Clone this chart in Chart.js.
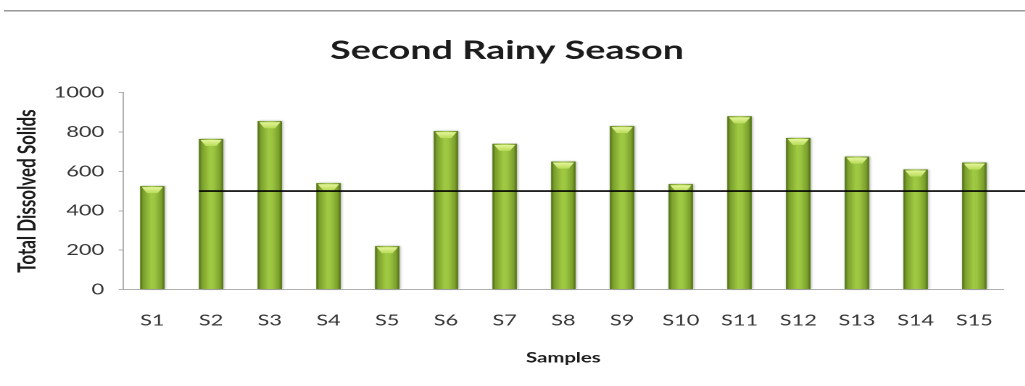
<!DOCTYPE html>
<html>
<head>
<meta charset="utf-8">
<script src="https://cdn.jsdelivr.net/npm/chart.js@4"></script>
<style>
  html, body { margin: 0; padding: 0; background: #fff; }
  body { width: 1025px; height: 386px; overflow: hidden; position: relative; }
  #wrap { position: absolute; left: 0; top: 0; transform-origin: 0 0; }
  #topline { position: absolute; left: 4px; right: 0; top: 10px; height: 1px; background: #9a9a9a; border-bottom: 1px solid #c8c8c8; }
</style>
</head>
<body>
<div id="wrap"><canvas id="chart"></canvas></div>
<div id="topline"></div>
<script>
// data
const samples = ['S1', 'S2', 'S3', 'S4', 'S5', 'S6', 'S7', 'S8', 'S9', 'S10', 'S11', 'S12', 'S13', 'S14', 'S15'];
const tdsValues = [525, 765, 855, 540, 220, 805, 740, 650, 830, 535, 880, 770, 675, 610, 645];
const limitValue = 500;
const yMin = 0;
const yMax = 1000;
const yStep = 200;

// the original picture is stretched sideways, so draw narrower and stretch the same way
const stretch = 1.45;
const W = Math.round(1025 / stretch);
const H = 386;

const wrap = document.getElementById('wrap');
wrap.style.width = W + 'px';
wrap.style.height = H + 'px';
wrap.style.transform = 'scaleX(' + stretch + ')';
const canvas = document.getElementById('chart');
canvas.width = W;
canvas.height = H;

const plotLeft = 123 / stretch;
const plotRight = 1014 / stretch;

// soft shadow behind each bar
const barShadow = {
    id: 'barShadow',
    beforeDatasetsDraw(chart) {
        const c = chart.ctx;
        const meta = chart.getDatasetMeta(0);
        c.save();
        c.shadowColor = 'rgba(0,0,0,0.35)';
        c.shadowBlur = 4;
        c.shadowOffsetX = 1;
        c.shadowOffsetY = 0;
        c.fillStyle = '#6d8f28';
        meta.data.forEach((bar) => {
            c.fillRect(bar.x - bar.width / 2, bar.y, bar.width, bar.base - bar.y);
        });
        c.restore();
    }
};

// cylinder-like shading and a light bevel on top of each bar
const barShade = {
    id: 'barShade',
    afterDatasetsDraw(chart) {
        const c = chart.ctx;
        const meta = chart.getDatasetMeta(0);
        c.save();
        meta.data.forEach((bar) => {
            const l = bar.x - bar.width / 2;
            const r = bar.x + bar.width / 2;
            const g = c.createLinearGradient(l, 0, r, 0);
            g.addColorStop(0, '#4f6b17');
            g.addColorStop(0.12, '#7a9f2c');
            g.addColorStop(0.45, '#a0ca43');
            g.addColorStop(0.6, '#9cc641');
            g.addColorStop(0.88, '#7a9f2c');
            g.addColorStop(1, '#4f6b17');
            c.fillStyle = g;
            c.fillRect(l, bar.y, bar.width, bar.base - bar.y);

            const cap = c.createLinearGradient(0, bar.y, 0, bar.y + 7);
            cap.addColorStop(0, '#eef9a8');
            cap.addColorStop(1, '#b8dc58');
            c.fillStyle = cap;
            c.beginPath();
            c.moveTo(l + 1, bar.y + 1);
            c.lineTo(r - 1, bar.y + 1);
            c.lineTo(bar.x + bar.width * 0.22, bar.y + 7);
            c.lineTo(bar.x - bar.width * 0.22, bar.y + 7);
            c.closePath();
            c.fill();
        });
        c.restore();
    }
};

// black guide line at the limit value, from the second bar to the right edge
const limitLine = {
    id: 'limitLine',
    afterDatasetsDraw(chart) {
        const c = chart.ctx;
        const bar = chart.getDatasetMeta(0).data[1];
        const y = chart.scales.y.getPixelForValue(limitValue);
        c.save();
        c.strokeStyle = '#000';
        c.lineWidth = 1.6;
        c.beginPath();
        c.moveTo(bar.x - bar.width / 2, y);
        c.lineTo(chart.width, y);
        c.stroke();
        c.restore();
    }
};

new Chart(canvas.getContext('2d'), {
    type: 'bar',
    data: {
        labels: samples,
        datasets: [{
            label: 'Total Dissolved Solids',
            data: tdsValues,
            backgroundColor: '#8db53c',
            borderWidth: 0,
            barPercentage: 0.82,
            categoryPercentage: 0.5
        }]
    },
    options: {
        responsive: false,
        animation: false,
        devicePixelRatio: 2,
        layout: { padding: { left: 0, right: W - plotRight, top: 0, bottom: 0 } },
        plugins: {
            legend: { display: false },
            tooltip: { enabled: false },
            title: {
                display: true,
                text: 'Second Rainy Season',
                color: '#1c1c1c',
                font: { family: 'Lato', size: 26, weight: 'bold', lineHeight: 1.2 },
                padding: { top: 35, bottom: 26.5 }
            }
        },
        scales: {
            x: {
                grid: { display: false, drawTicks: false },
                border: { display: true, color: '#b0b0b0', width: 1 },
                ticks: {
                    color: '#363636',
                    font: { family: 'Lato', size: 15 },
                    padding: 22
                },
                title: {
                    display: true,
                    text: 'Samples',
                    color: '#1c1c1c',
                    font: { family: 'Lato', size: 14, weight: 'bold', lineHeight: 1.2 },
                    padding: { top: 0, bottom: 19.6 }
                },
                afterFit: (scale) => { scale.height = 96.5; }
            },
            y: {
                min: yMin,
                max: yMax,
                grid: { drawOnChartArea: false, drawTicks: true, tickLength: 3, color: '#b0b0b0' },
                border: { display: true, color: '#b0b0b0', width: 1 },
                ticks: {
                    stepSize: yStep,
                    color: '#363636',
                    font: { family: 'Lato', size: 15 },
                    padding: 10,
                    callback: (value) => String(value)
                },
                title: {
                    display: true,
                    text: 'Total Dissolved Solids',
                    color: '#1c1c1c',
                    font: { family: 'Lato', size: 17, weight: 'bold', lineHeight: 1.2 },
                    padding: { top: 9, bottom: 0 }
                },
                afterFit: (scale) => { scale.width = plotLeft; }
            }
        }
    },
    plugins: [barShadow, barShade, limitLine]
});
</script>
</body>
</html>
